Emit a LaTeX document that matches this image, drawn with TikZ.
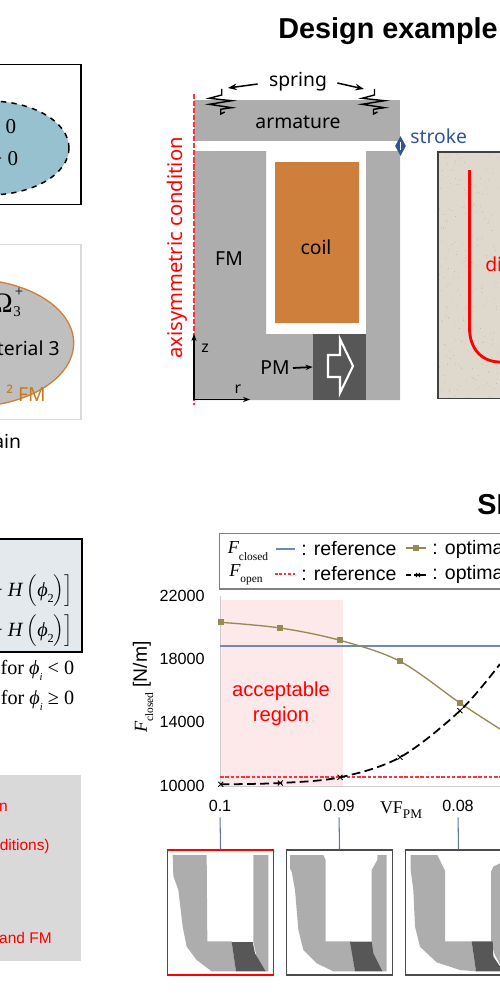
\documentclass[tikz,border=0pt]{standalone}
\usepackage{fontspec}
\setmainfont{Liberation Sans}
\newfontfamily\labelfont{Noto Sans}
\newfontfamily\symfont{Liberation Serif}
\usetikzlibrary{shapes.geometric, positioning, arrows.meta}

\definecolor{ironGray}{HTML}{ADADAD}
\definecolor{magnetGray}{HTML}{575757}
\definecolor{coilOrange}{HTML}{CF7F3C}
\definecolor{fmOrange}{HTML}{C87A1E}
\definecolor{strokeBlue}{HTML}{2F5597}
\definecolor{refBlue}{HTML}{6F88B8}
\definecolor{optOlive}{HTML}{948A54}
\definecolor{regionPink}{HTML}{FDE8EA}
\definecolor{paperTan}{HTML}{DFD8CC}
\definecolor{formulaBlue}{HTML}{E4E9EE}
\definecolor{levelBlue}{HTML}{97C1CF}
\definecolor{softRed}{HTML}{FF3040}

\newcommand{\fsym}[1]{{\symfont\fontsize{10.4}{12}\selectfont\itshape F}\raisebox{-.35em}{\symfont\fontsize{6.5}{8}\selectfont #1}}
\newcommand{\heavi}{{\symfont\fontsize{11.5}{13}\selectfont + \textit{H}\,$\Bigl($\textit{ϕ}\raisebox{-.3em}{\fontsize{7}{8}\selectfont 2}$\Bigr)\Bigr]$}}

\tikzset{
    labeltext/.style={font=\labelfont\fontsize{11}{13}\selectfont},
    ticktext/.style={font=\fontsize{9.2}{11}\selectfont},
    legendtext/.style={font=\fontsize{11.1}{13}\selectfont, anchor=west},
    serifzero/.style={font=\symfont\fontsize{12}{13}\selectfont, anchor=east},
    redtext/.style={font=\fontsize{8.8}{11}\selectfont, text=red, anchor=east},
    thumbbox/.style={draw=#1, line width=0.8pt, minimum width=2.12cm, minimum height=2.5cm},
    iron/.style={fill=ironGray, draw=none},
    magnet/.style={fill=magnetGray, draw=none},
    tickline/.style={draw=refBlue!85!black, line width=0.6pt, shorten <=3pt}
}

\begin{document}
\begin{tikzpicture}[x=0.02cm, y=-0.02cm, every node/.style={inner sep=0pt}]
    \useasboundingbox (0,0) rectangle (500,997);
    \clip (0,0) rectangle (500,997);

    % Titles
    \node[font=\bfseries\fontsize{16.4}{19}\selectfont, anchor=west] (title1) at (278,31) {Design example};
    \node[font=\bfseries\fontsize{16.4}{19}\selectfont, anchor=west] (title2) at (477,505) {SI};

    % Left column
    \draw[line width=0.85pt, fill=white] (-5,64.5) rectangle (81,204.5);
    \draw[fill=levelBlue, dashed, line width=0.85pt] (-11,148) ellipse [x radius=80, y radius=47];
    \node[serifzero] (zero1) at (16.5,127) {< 0};
    \node[serifzero] (zero2) at (18.5,159) {> 0};

    \draw[draw=black!15, line width=0.85pt] (-5,244.5) rectangle (81,419.5);
    \draw[fill=black!25, draw=coilOrange, line width=0.75pt] (-30,343) ellipse [x radius=103.7, y radius=63.7];
    \node[font=\symfont\fontsize{16}{18}\selectfont, anchor=east] (omega) at (13,303) {Ω};
    \node[font=\symfont\fontsize{8.5}{10}\selectfont] (omegasub) at (17,312) {3};
    \node[font=\symfont\fontsize{8.5}{10}\selectfont] (omegasup) at (19,292) {+};
    \node[labeltext, anchor=east] (mat3) at (60,348) {terial 3};
    \node[labeltext, anchor=east, text=fmOrange] (fmtwo) at (46,393) {² FM};
    \node[labeltext, anchor=east] (domain) at (21.5,441) {ain};

    \draw[fill=formulaBlue, line width=0.85pt] (-5,539) rectangle (82,652);
    \node[anchor=east] (heavi1) at (73,591) {\heavi};
    \node[anchor=east] (heavi2) at (73,631) {\heavi};
    \foreach \y/\t/\n in {670/<{}/for1, 700/≥/for2} {
        \node[font=\symfont\fontsize{11.5}{13}\selectfont, anchor=east] (\n) at (74.5,\y) {for \textit{ϕ}\raisebox{-.3em}{\fontsize{6}{7}\selectfont\textit{i}} \t\ 0};
    }

    \fill[black!15] (-5,775) rectangle (81,961);
    \node[redtext] (red1) at (8,807) {n};
    \node[redtext] (red2) at (50,846) {ditions)};
    \node[redtext] (red3) at (52,938) {and FM};

    % Actuator
    \fill[iron] (194,100) rectangle (400,141);
    \fill[iron] (194,151) -- (266,151) -- (266,334) -- (366,334) -- (366,151) -- (400,151) -- (400,400) -- (194,400) -- cycle;
    \fill[coilOrange] (275,162) rectangle (359,323);
    \node[magnet, minimum width=1.06cm, minimum height=1.32cm] (pmblock) at (339.5,367) {};
    \draw[white, line width=1.2pt] (328,355) -- (340,355) -- (340,339) -- (353,366) -- (340,393) -- (340,377) -- (328,377) -- cycle;
    \draw[softRed, line width=0.75pt, dash pattern=on 3pt off 1pt] (194,94) -- (194,405);

    \node[labeltext] (armature) at (298,122) {armature};
    \node[labeltext] (coil) at (316,247) {coil};
    \node[labeltext] (fm) at (229,259) {FM};
    \node[labeltext] (pm) at (275,368) {PM};
    \node[labeltext] (spring) at (298,82) {spring};
    \node[labeltext, anchor=west, text=strokeBlue] (stroke) at (410,136) {stroke};
    \node[font=\labelfont\fontsize{11.5}{13}\selectfont, rotate=90, text=red] (axisym) at (177,248) {axisymmetric condition};
    \node[font=\labelfont\fontsize{9}{11}\selectfont] (zlabel) at (205,348) {z};
    \node[font=\labelfont\fontsize{9}{11}\selectfont] (rlabel) at (238,389) {r};

    % Springs
    \foreach \x in {220.7,373.5} {
        \draw[black, line width=0.8pt] (\x+1,89) -- (\x+1,95) -- (\x-11.5,98.3) -- (\x+11,100.7) -- (\x-11.5,104.3) -- (\x+11,107.7) -- (\x,109.3) -- (\x,114) -- (\x+4,112);
    }
    \coordinate (springL) at (228,88);
    \coordinate (springR) at (364,89);
    \draw[-{Stealth[length=5pt]}, line width=0.85pt] (spring.west) ++(-11,2) -- (springL);
    \draw[-{Stealth[length=5pt]}, line width=0.85pt] (spring.east) ++(10,1) -- (springR);
    \draw[-{Stealth[length=4pt]}, line width=1pt] (pm) ++(18,0) -- (pmblock.west);

    % Stroke marker
    \node[diamond, fill=strokeBlue, minimum width=0.22cm, minimum height=0.4cm] (strokemark) at (400.5,146) {};
    \draw[white, line width=0.4pt] (strokemark.north) ++(0,6) -- ++(0,8);

    % r-z axes
    \coordinate (origin) at (194,399.5);
    \coordinate (zend) at (194,334);
    \coordinate (rend) at (250,399.5);
    \draw[-{Stealth[length=4pt]}, line width=0.6pt] (origin) -- (zend);
    \draw[-{Stealth[length=4pt]}, line width=0.6pt] (origin) -- (rend);

    % Right panel
    \draw[fill=paperTan, draw=black!75, line width=0.75pt] (438,152) rectangle (510,398.5);
    \pgfmathsetseed{7}
    \foreach \i in {1,...,220} {
        \fill[black!20!paperTan] (439+60*rnd,153+245*rnd) circle (0.4);
    }
    \draw[red, line width=1.4pt] (469.5,170) -- (469.5,329);
    \draw[red, line width=1.6pt] (469.5,328) .. controls (469.5,350) and (483,362) .. (500,362);
    \node[labeltext, text=red, anchor=west] (direction) at (485,264) {di};

    % Legend
    \draw[draw=black!50, line width=0.7pt] (219.5,533.5) rectangle (510,589);
    \node (lgF1) at (248,551) {\fsym{closed}};
    \node (lgF2) at (246,575) {\fsym{open}};
    \draw[refBlue, line width=0.6pt] (276,549) -- (295,549);
    \draw[softRed, line width=0.6pt, dash pattern=on 1.5pt off 1pt] (275,574) -- (295,574);
    \draw[optOlive, line width=0.6pt] (406,548) -- (426,548);
    \fill[optOlive] (413,545) rectangle (419,551);
    \draw[line width=0.8pt] (406,575) -- (411,575) (414,575) -- (426,575);
    \draw[line width=0.5pt] (416,573) -- (420,577) (416,577) -- (420,573);
    \node[legendtext] (lgref1) at (301,549) {: reference};
    \node[legendtext] (lgref2) at (301,574) {: reference};
    \node[legendtext] (lgopt1) at (432,549) {: optima};
    \node[legendtext] (lgopt2) at (432,574) {: optima};

    % Chart
    \fill[regionPink] (220.7,600) rectangle (343,786);
    \draw[black!20, line width=0.5pt] (220,596) -- (220,786) -- (510,786);
    \draw[refBlue, line width=0.6pt] (220,646) -- (510,646);
    \draw[softRed, line width=0.7pt, dash pattern=on 2pt off 1pt] (220,777) -- (510,777);
    \draw[optOlive, line width=0.75pt] plot[smooth, tension=0.55] coordinates {(220.7,622.3) (280.3,628) (340,640.3) (400,661.3) (460,703) (500,729)};
    \foreach \x/\y in {220.7/622.3, 280.3/628, 340/640.3, 400/661.3, 460/703} {
        \fill[optOlive] (\x-3,\y-3) rectangle (\x+3,\y+3);
    }
    \draw[line width=1pt, dash pattern=on 5pt off 2.5pt] plot[smooth, tension=0.55] coordinates {(220.7,784.3) (280.3,783) (340,777.3) (400,757.3) (460,710.7) (500,664)};
    \foreach \x/\y in {220.7/784.3, 280.3/783, 340/777.3, 400/757.3, 460/710.7} {
        \draw[line width=0.5pt] (\x-2.5,\y-2.5) -- (\x+2.5,\y+2.5) (\x-2.5,\y+2.5) -- (\x+2.5,\y-2.5);
    }
    \foreach \y/\t in {596/22000, 659/18000, 722/14000, 786/10000} {
        \node[ticktext, anchor=east] (ytick\t) at (205,\y) {\t};
    }
    \node[font=\fontsize{11.5}{13}\selectfont, text=red, align=center] (region) at (281,704) {acceptable\\[1pt]region};
    \node[rotate=90] (ylabel) at (143,687) {\fsym{closed} {\fontsize{11}{12}\selectfont [N/m]}};
    \node[font=\symfont\fontsize{10.2}{12}\selectfont] (vflabel) at (401,810) {VF\raisebox{-.3em}{\fontsize{7.5}{9}\selectfont PM}};

    % Thumbnails
    \begin{scope}[shift={(160,800)}, scale=1/3]
        \fill[iron] (38,165) -- (140,165) -- (142,424) -- (215,424) -- (228,514) -- (155,514) -- (110,480) -- (80,440) -- (68,380) -- (55,270) -- (40,228) -- cycle;
        \fill[iron] (280,165) -- (325,165) -- (325,514) -- (315,514) -- (290,470) -- (280,426) -- cycle;
        \fill[magnet] (215,426) -- (278,426) -- (285,460) -- (317,514) -- (228,514) -- cycle;

        \fill[iron] (390,165) -- (490,165) -- (497,180) -- (497,424) -- (572,424) -- (585,514) -- (520,514) -- (470,490) -- (430,450) -- (415,390) -- (405,270) -- (395,215) -- (390,205) -- cycle;
        \fill[iron] (652,165) -- (680,165) -- (680,514) -- (665,514) -- (635,450) -- (635,210) -- (652,180) -- cycle;
        \fill[magnet] (570,425) -- (635,425) -- (640,460) -- (667,514) -- (585,514) -- cycle;

        \fill[iron] (752,165) -- (832,165) -- (855,212) -- (855,424) -- (935,424) -- (948,514) -- (900,510) -- (830,487) -- (780,440) -- (765,380) -- (760,270) -- (752,210) -- cycle;
        \fill[iron] (1020,190) -- (1000,200) -- (993,215) -- (993,424) -- (1003,460) -- (1030,514) -- (1050,514) -- (1050,165) -- (1020,165) -- cycle;
        \fill[magnet] (935,424) -- (998,424) -- (1000,470) -- (1030,514) -- (948,514) -- cycle;
    \end{scope}
    \foreach \x/\t/\n/\c in {220/0.1/1/red, 339/0.09/2/black!70, 458/0.08/3/black!70} {
        \node[ticktext] (xtick\n) at (\x,806) {\t};
        \node[thumbbox=\c] (thumb\n) at (\x+0.5,912.5) {};
        \draw[tickline] (xtick\n.south) -- (thumb\n.north);
    }
\end{tikzpicture}
\end{document}
